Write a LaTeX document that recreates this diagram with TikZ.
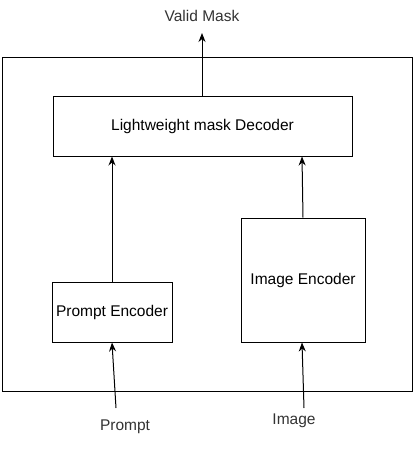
\documentclass[tikz,border=0pt]{standalone}
\usepackage{fontspec}
\setmainfont{Liberation Sans}
\usetikzlibrary{arrows.meta, positioning}

\begin{document}
\begin{tikzpicture}[
    x=1pt, y=-1pt,
    block/.style={rectangle, draw=black, fill=white, line width=1pt,
                  inner sep=0pt, align=center, font=\fontsize{15.5}{18}\selectfont},
    arrow/.style={-{Stealth[length=9pt,width=7pt]}, line width=1pt, color=black},
    caption/.style={font=\fontsize{15.5}{18}\selectfont, color=black!80}
]
\useasboundingbox (0,0) rectangle (414,455);

% outer frame
\node[draw=black, line width=1pt, minimum width=410pt, minimum height=334pt, inner sep=0pt] (frame) at (207,224) {};

\node[block, minimum width=299pt, minimum height=60pt] (dec) at (202.5,126) {Lightweight mask Decoder};
\node[block, minimum width=120pt, minimum height=60pt] (penc) at (112,312) {Prompt Encoder};
\node[block, minimum width=124pt, minimum height=124pt] (ienc) at (303,280) {Image Encoder};

\node[caption] (mask) at (202,16) {Valid Mask};
\node[caption] (prompt) at (125,427) {Prompt};
\node[caption] (image) at (294,421) {Image};

\coordinate (maskin) at (202,33);
\coordinate (promptout) at (116,408);
\coordinate (imageout) at (304,408);

\draw[arrow] (dec.north -| maskin) -- (maskin);
\draw[arrow] (penc.north) -- (penc.north |- dec.south);
\draw[arrow] (ienc.north) -- ([xshift=-1pt]ienc.north |- dec.south);
\draw[arrow] (promptout) -- (penc.south);
\draw[arrow] (imageout) -- ([xshift=-1pt]ienc.south);

\end{tikzpicture}
\end{document}
